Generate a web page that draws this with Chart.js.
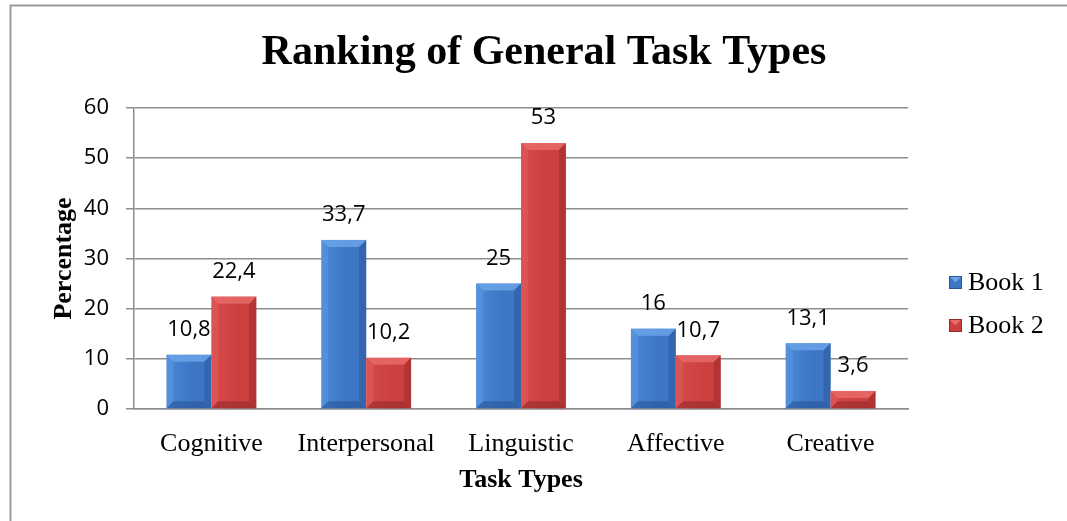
<!DOCTYPE html>
<html>
<head>
<meta charset="utf-8">
<script src="https://cdn.jsdelivr.net/npm/chart.js@4.4.1/dist/chart.umd.min.js"></script>
<style>
  html, body { margin: 0; padding: 0; background: #ffffff; }
  #wrap { position: absolute; left: 0; top: 0; width: 1067px; height: 521px; }
</style>
</head>
<body>
<div id="wrap"><canvas id="c" width="1067" height="521"></canvas></div>
<script>
const categories = ['Cognitive', 'Interpersonal', 'Linguistic', 'Affective', 'Creative'];
const book1 = [10.8, 33.7, 25, 16, 13.1];
const book2 = [22.4, 10.2, 53, 10.7, 3.6];
const seriesNames = ['Book 1', 'Book 2'];
const chartTitle = 'Ranking of General Task Types';
const xTitle = 'Task Types';
const yTitle = 'Percentage';
const yMin = 0, yMax = 60, yStep = 10;

const SERIF = '"Liberation Serif", "Times New Roman", serif';
const SANS = '"Open Sans", "DejaVu Sans", sans-serif';

const palette = [
  { base: '#3c76c4', light: '#6aa3e8', dark: '#2a5598', mid: '#4a88d6' },
  { base: '#cc4040', light: '#e86a6a', dark: '#962a2a', mid: '#d64a4a' }
];

const decor = {
  id: 'decor',
  beforeDraw(chart) {
    const c = chart.ctx;
    c.save();
    c.strokeStyle = '#9c9c9c';
    c.lineWidth = 2;
    c.beginPath();
    c.moveTo(10.5, 521);
    c.lineTo(10.5, 5.5);
    c.lineTo(1067, 5.5);
    c.stroke();
    c.restore();
  },
  afterDatasetsDraw(chart) {
    const c = chart.ctx;
    c.save();
    chart.data.datasets.forEach((ds, di) => {
      const meta = chart.getDatasetMeta(di);
      const pal = palette[di];
      meta.data.forEach((el, i) => {
        const p = el.getProps(['x', 'y', 'base', 'width'], true);
        const l = p.x - p.width / 2, r = p.x + p.width / 2;
        const t = p.y, b = p.base;
        const h = b - t;
        const bev = Math.min(7, h / 2);
        const g = c.createLinearGradient(l, 0, r, 0);
        g.addColorStop(0, pal.mid);
        g.addColorStop(0.6, pal.base);
        g.addColorStop(1, pal.base);
        c.fillStyle = g;
        c.fillRect(l, t, p.width, h);
        // top bevel
        c.fillStyle = pal.light;
        c.globalAlpha = 0.85;
        c.beginPath();
        c.moveTo(l, t); c.lineTo(r, t); c.lineTo(r - bev, t + bev); c.lineTo(l + bev, t + bev); c.closePath();
        c.fill();
        // left bevel
        c.globalAlpha = 0.35;
        c.beginPath();
        c.moveTo(l, t); c.lineTo(l + bev, t + bev); c.lineTo(l + bev, b - bev); c.lineTo(l, b); c.closePath();
        c.fill();
        // right bevel
        c.fillStyle = pal.dark;
        c.globalAlpha = 0.5;
        c.beginPath();
        c.moveTo(r, t); c.lineTo(r - bev, t + bev); c.lineTo(r - bev, b - bev); c.lineTo(r, b); c.closePath();
        c.fill();
        // bottom bevel
        c.globalAlpha = 0.6;
        c.beginPath();
        c.moveTo(l, b); c.lineTo(l + bev, b - bev); c.lineTo(r - bev, b - bev); c.lineTo(r, b); c.closePath();
        c.fill();
        c.globalAlpha = 1;
      });
    });
    c.restore();
  },
  afterDraw(chart) {
    const c = chart.ctx;
    const area = chart.chartArea;
    c.save();
    c.fillStyle = '#000';
    c.textAlign = 'center';
    c.textBaseline = 'middle';
    c.font = 'bold 42px ' + SERIF;
    c.fillText(chartTitle, 544, 53);
    c.font = 'bold 26px ' + SERIF;
    c.fillText(xTitle, (area.left + area.right) / 2, 480);
    c.save();
    c.translate(64, (area.top + area.bottom) / 2);
    c.rotate(-Math.PI / 2);
    c.fillText(yTitle, 0, 0);
    c.restore();
    c.font = '22px ' + SANS;
    chart.data.datasets.forEach((ds, di) => {
      const meta = chart.getDatasetMeta(di);
      meta.data.forEach((el, i) => {
        const p = el.getProps(['x', 'y'], true);
        const txt = String(ds.data[i]).replace('.', ',');
        c.fillText(txt, p.x, p.y - 25);
      });
    });
    c.textAlign = 'left';
    c.font = '26px ' + SERIF;
    const ly = [282, 325];
    seriesNames.forEach((name, i) => {
      const pal = palette[i];
      const bx = 949, by = ly[i] - 6, bs = 13;
      c.fillStyle = pal.base;
      c.fillRect(bx, by, bs, bs);
      c.fillStyle = pal.light;
      c.beginPath();
      c.moveTo(bx, by); c.lineTo(bx + bs, by); c.lineTo(bx + bs / 2, by + bs / 2); c.closePath();
      c.fill();
      c.strokeStyle = pal.dark;
      c.lineWidth = 1;
      c.strokeRect(bx + 0.5, by + 0.5, bs - 1, bs - 1);
      c.fillStyle = '#000';
      c.fillText(name, 968, ly[i] + 1);
    });
    c.restore();
  }
};

new Chart(document.getElementById('c'), {
  type: 'bar',
  data: {
    labels: categories,
    datasets: [
      { label: seriesNames[0], data: book1, backgroundColor: 'rgba(0,0,0,0)', borderWidth: 0 },
      { label: seriesNames[1], data: book2, backgroundColor: 'rgba(0,0,0,0)', borderWidth: 0 }
    ]
  },
  options: {
    responsive: false,
    animation: false,
    devicePixelRatio: 1,
    layout: { padding: { left: 0, top: 108, right: 159, bottom: 0 } },
    plugins: {
      legend: { display: false },
      title: { display: false },
      tooltip: { enabled: false }
    },
    datasets: { bar: { categoryPercentage: 0.58, barPercentage: 1 } },
    scales: {
      x: {
        grid: { display: false, drawTicks: false },
        border: { display: true, color: '#8e8e8e', width: 1.5 },
        ticks: { color: '#000', font: { family: SERIF, size: 26 }, padding: 20, maxRotation: 0, autoSkip: false },
        afterFit(s) { s.height = 112; }
      },
      y: {
        min: yMin, max: yMax,
        grid: { color: '#8e8e8e', lineWidth: 1.5, tickLength: 8, drawTicks: true },
        border: { display: true, color: '#8e8e8e', width: 1.5 },
        ticks: { stepSize: yStep, color: '#000', font: { family: SANS, size: 22 }, padding: 17 },
        afterFit(s) { s.width = 134; }
      }
    }
  },
  plugins: [decor]
});
</script>
</body>
</html>
